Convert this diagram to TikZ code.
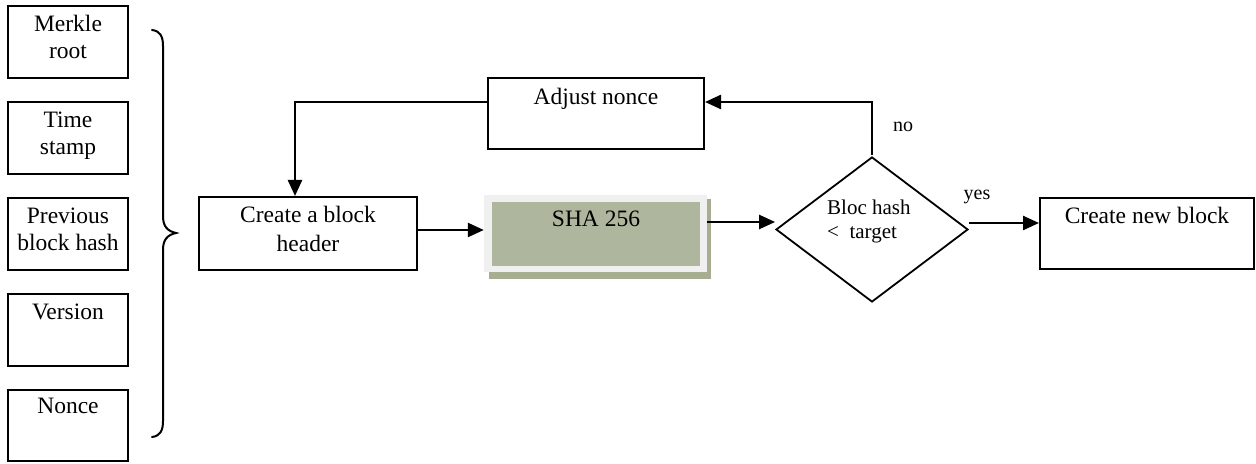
\documentclass[tikz,border=0pt]{standalone}
\usepackage{fontspec}
\setmainfont{Liberation Serif}
\usetikzlibrary{arrows.meta,shapes.geometric,calc}
\definecolor{shagreen}{HTML}{AEB69D}
\definecolor{shashadow}{HTML}{A6AD90}
\definecolor{shaborder}{HTML}{F0F0F0}
\tikzset{
  boxnode/.style={draw=black,line width=2bp,rectangle,inner sep=0pt},
  txt/.style={font=\fontsize{23.5bp}{27bp}\selectfont,anchor=base,inner sep=0pt},
  dtxt/.style={font=\fontsize{21bp}{24bp}\selectfont,anchor=base west,inner sep=0pt},
  lbl/.style={font=\fontsize{20bp}{24bp}\selectfont,anchor=base,inner sep=0pt},
  conn/.style={line width=2.4bp,-{Triangle[length=16bp,width=14bp]}},
  bracepath/.style={line width=2bp,line cap=round}
}
\begin{document}
\begin{tikzpicture}[x=1bp,y=-1bp]
\useasboundingbox (0,0) rectangle (1256,464);
% left boxes
\node[boxnode,minimum width=120bp,minimum height=72bp] (mr) at (68,42) {};
\node[boxnode,minimum width=120bp,minimum height=72bp] (ts) at (68,138) {};
\node[boxnode,minimum width=120bp,minimum height=72bp] (pb) at (68,234) {};
\node[boxnode,minimum width=120bp,minimum height=72bp] (ve) at (68,330) {};
\node[boxnode,minimum width=120bp,minimum height=71bp] (nc) at (68,426) {};
\node[txt] (mrt1) at (68,32) {Merkle};
\node[txt] (mrt2) at (68,59) {root};
\node[txt] (tst1) at (68,128) {Time};
\node[txt] (tst2) at (68,155) {stamp};
\node[txt] (pbt1) at (68,224) {Previous};
\node[txt] (pbt2) at (68,251) {block hash};
\node[txt] (vet) at (68,320) {Version};
\node[txt] (nct) at (68,414) {Nonce};
% brace
\draw[bracepath] (152,30) .. controls (160,31) and (163,36) .. (163,46)
  -- (163,216) .. controls (163,226) and (167,231) .. (176,233)
  .. controls (167,235) and (163,240) .. (163,250)
  -- (163,421) .. controls (163,431) and (160,436) .. (152,437);
% create block header
\node[boxnode,minimum width=218bp,minimum height=73bp] (hdr) at (308,233.5) {};
\node[txt] (hdrt1) at (308,223) {Create a block};
\node[txt] (hdrt2) at (308,252) {header};
% SHA 256
\fill[shashadow] (489,199) rectangle (711,279);
\node[fill=shaborder,draw=none,minimum width=223bp,minimum height=77bp,inner sep=0pt] (shao) at (595.5,233.5) {};
\node[fill=shagreen,draw=none,minimum width=208bp,minimum height=64bp,inner sep=0pt] (sha) at (596,234) {};
\node[txt] (shat) at (596,227) {SHA 256};
% adjust nonce
\node[boxnode,minimum width=216bp,minimum height=71bp] (adj) at (596,113.5) {};
\node[txt] (adjt) at (596,105) {Adjust nonce};
% diamond
\node[draw=black,line width=1.8bp,diamond,minimum width=192bp,minimum height=145bp,inner sep=0pt] (dia) at (872,229.5) {};
\node[dtxt] (diat1) at (827,215) {Bloc hash};
\node[dtxt] (diat2) at (827,239) {<\ \ target};
% create new block
\node[boxnode,minimum width=214bp,minimum height=71bp] (newb) at (1147,233.5) {};
\node[txt] (newbt) at (1147,224) {Create new block};
% labels
\node[lbl] (no) at (903,132) {no};
\node[lbl] (yes) at (977,200) {yes};
% connectors
\draw[conn] ([yshift=3.5bp]hdr.east) -- ([yshift=3.5bp]hdr.east -| shao.west);
\draw[conn] ([yshift=11.5bp]shao.east) -- ([yshift=11.5bp]shao.east -| dia.west);
\draw[conn] ([yshift=6.5bp]dia.east) -- ([yshift=6.5bp]dia.east -| newb.west);
\draw[conn] ([yshift=1.5bp]dia.north) |- ([yshift=11.5bp]adj.east);
\draw[conn] ([yshift=11.5bp]adj.west) -| ([xshift=-13bp]hdr.north);
\end{tikzpicture}
\end{document}
